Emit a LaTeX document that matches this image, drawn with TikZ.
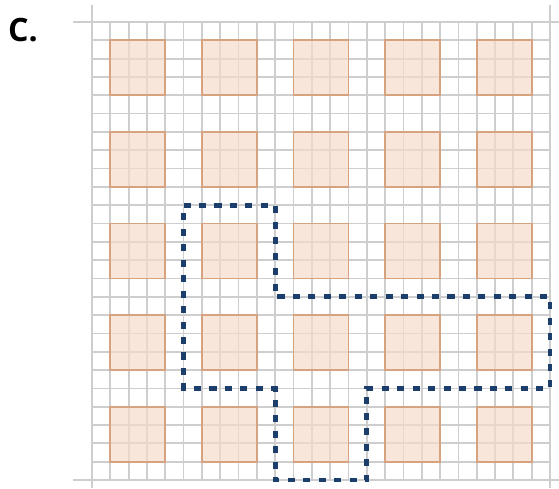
\documentclass[tikz,border=0pt]{standalone}
\usepackage{fontspec}
\setsansfont{Open Sans}
\usepackage{xcolor}
\definecolor{gridgray}{RGB}{206,206,206}
\definecolor{tilefill}{RGB}{245,220,204}
\definecolor{tileedge}{RGB}{214,162,128}
\definecolor{pathblue}{RGB}{27,62,107}
\usepackage{tikz}
\usetikzlibrary{positioning}

\begin{document}
\begin{tikzpicture}[
  x=0.5cm, y=0.5cm,
  gridline/.style={gridgray, line width=1.4pt},
  tile/.style={fill=tilefill, fill opacity=0.7},
  tileborder/.style={draw=tileedge, line width=1.5pt},
  region/.style={pathblue, line width=3.6pt, dash pattern=on 5.5pt off 6.5pt},
  tag/.style={font=\sffamily\bfseries\fontsize{25}{28}\selectfont},
]
\useasboundingbox (-5.02,1.2) rectangle (25.49,-25.44);

% Label
\node[tag] (label) at (-3.77,-0.45) {C.};

% Grid
\draw[gridline, step=0.5cm] (0,0) grid (25,-25);
\draw[gridline] (-1.05,0) -- (25.49,0);
\draw[gridline] (-1.05,-25) -- (25.49,-25);
\draw[gridline] (0,0.93) -- (0,-25.44);
\draw[gridline] (25,0.93) -- (25,-25.44);

% Tiles
\foreach \i in {0,...,4}
  \foreach \j in {0,...,4} {
    \fill[tile] (5*\i+1,-5*\j-1) rectangle (5*\i+4,-5*\j-4);
    \draw[tileborder] (5*\i+1,-5*\j-1) rectangle (5*\i+4,-5*\j-4);
  }

% Dashed region
\draw[region] (5,-10) -- (10,-10) -- (10,-15) -- (25,-15) -- (25,-20)
  -- (15,-20) -- (15,-25) -- (10,-25) -- (10,-20) -- (5,-20) -- cycle;

\end{tikzpicture}
\end{document}
